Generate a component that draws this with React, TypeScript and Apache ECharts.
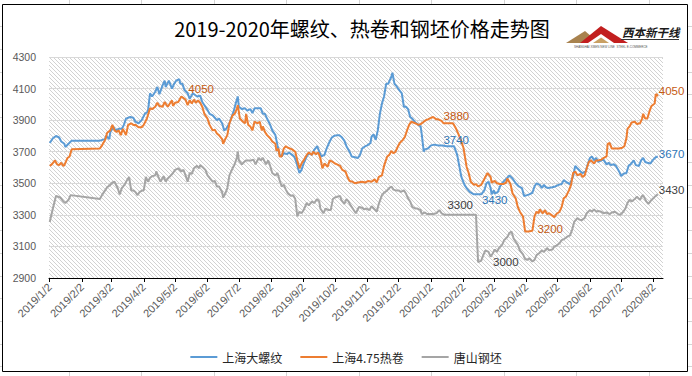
import React, { useEffect, useRef } from 'react';
import * as echarts from 'echarts';

// Points: [days since 2019-01-02, price (元/吨)]
const rebarPoints: [number, number][] = [
  [0,3755],[3,3785],[6,3800],[9,3790],[11,3765],[14,3750],[15,3730],[18,3750],[21,3770],[48,3770],[53,3780],[54,3800],[57,3780],[58,3825],[61,3855],[63,3835],[66,3845],[69,3845],[71,3870],[73,3910],[77,3920],[80,3915],[82,3890],[85,3880],[88,3900],[91,3940],[94,3955],[96,4070],[98,4050],[101,4080],[103,4110],[105,4065],[108,4120],[110,4150],[111,4110],[114,4150],[117,4100],[119,4130],[121,4150],[124,4160],[125,4130],[127,4130],[129,4090],[132,4070],[134,4035],[137,4070],[141,4050],[144,4055],[146,4015],[149,3985],[151,3965],[153,3940],[156,3930],[158,3915],[160,3900],[162,3910],[165,3880],[167,3835],[169,3845],[172,3880],[174,3920],[176,3955],[178,4005],[180,4050],[181,3985],[184,3970],[187,3975],[189,3960],[192,3970],[194,3945],[196,3975],[200,3975],[202,3975],[204,3940],[206,3940],[208,3910],[211,3870],[213,3835],[216,3805],[218,3740],[220,3680],[222,3670],[224,3690],[227,3685],[229,3695],[232,3680],[234,3670],[236,3635],[239,3565],[241,3585],[243,3625],[246,3670],[248,3690],[251,3680],[253,3710],[256,3735],[258,3700],[260,3670],[263,3680],[265,3720],[268,3765],[270,3790],[272,3800],[275,3805],[277,3805],[279,3795],[282,3770],[284,3735],[287,3700],[289,3670],[292,3665],[295,3660],[297,3680],[299,3720],[302,3735],[304,3740],[307,3755],[308,3795],[310,3810],[312,3775],[314,3835],[316,3940],[318,4005],[320,4050],[322,4130],[324,4130],[325,4145],[327,4175],[328,4200],[330,4130],[332,4115],[334,4095],[337,4070],[339,3985],[341,3985],[343,3970],[345,3920],[347,3910],[350,3885],[352,3875],[355,3860],[356,3815],[358,3700],[359,3715],[362,3720],[365,3740],[368,3745],[372,3740],[376,3740],[380,3735],[385,3735],[387,3735],[390,3680],[392,3610],[394,3540],[397,3490],[399,3470],[402,3445],[406,3430],[409,3430],[413,3430],[416,3455],[418,3500],[420,3510],[422,3470],[423,3430],[425,3455],[426,3435],[429,3445],[431,3480],[433,3500],[435,3515],[438,3535],[440,3550],[443,3530],[446,3500],[449,3480],[452,3470],[454,3420],[457,3425],[459,3430],[462,3440],[464,3480],[466,3500],[469,3490],[471,3470],[473,3490],[475,3475],[477,3470],[481,3475],[484,3480],[487,3490],[490,3495],[492,3520],[495,3505],[498,3495],[501,3545],[503,3610],[505,3595],[508,3575],[510,3565],[513,3575],[515,3620],[517,3660],[519,3670],[521,3645],[523,3660],[525,3635],[528,3645],[530,3650],[533,3620],[535,3630],[537,3615],[540,3620],[542,3610],[545,3575],[547,3545],[549,3560],[552,3565],[554,3610],[556,3620],[559,3645],[561,3615],[564,3610],[566,3645],[568,3660],[570,3635],[572,3630],[575,3625],[577,3645],[580,3665],[582,3670]
];
const coilPoints: [number, number][] = [
  [0,3610],[2,3620],[5,3645],[7,3620],[9,3615],[11,3630],[13,3610],[14,3615],[17,3660],[19,3670],[21,3715],[48,3720],[50,3740],[53,3775],[55,3820],[58,3835],[60,3870],[62,3835],[64,3825],[66,3835],[68,3805],[70,3845],[73,3805],[75,3870],[78,3880],[80,3870],[82,3870],[85,3855],[88,3855],[90,3870],[93,3910],[96,3975],[98,3970],[101,3985],[103,4010],[105,3990],[108,3985],[110,4015],[113,3985],[115,4005],[117,4025],[118,3990],[120,4010],[123,4015],[126,4050],[128,4040],[130,4030],[132,3995],[134,4025],[136,4005],[138,4030],[140,4010],[142,4025],[144,4010],[146,3985],[148,3940],[151,3910],[153,3870],[156,3835],[158,3840],[160,3815],[162,3805],[165,3780],[166,3750],[168,3780],[170,3805],[172,3880],[175,3930],[177,3940],[179,3970],[180,3995],[182,3910],[185,3890],[187,3880],[188,3940],[190,3870],[192,3860],[194,3835],[196,3890],[199,3880],[201,3890],[203,3835],[204,3860],[206,3825],[208,3805],[211,3785],[213,3765],[216,3750],[217,3705],[219,3720],[220,3670],[222,3670],[224,3720],[226,3735],[228,3725],[232,3715],[235,3700],[237,3645],[239,3595],[241,3625],[243,3645],[246,3680],[248,3695],[251,3680],[252,3700],[255,3685],[257,3695],[259,3660],[261,3595],[263,3625],[266,3605],[268,3645],[271,3635],[273,3625],[275,3620],[278,3610],[280,3585],[283,3575],[285,3540],[287,3515],[290,3510],[292,3500],[295,3505],[299,3510],[302,3505],[305,3515],[308,3510],[311,3525],[313,3505],[315,3540],[318,3550],[320,3610],[323,3670],[325,3680],[327,3705],[329,3690],[331,3700],[333,3730],[335,3755],[338,3775],[340,3795],[342,3835],[344,3870],[346,3890],[348,3885],[350,3880],[353,3870],[355,3875],[358,3890],[360,3900],[362,3905],[365,3915],[367,3920],[370,3905],[372,3905],[375,3895],[377,3880],[380,3880],[383,3880],[386,3880],[389,3845],[391,3815],[394,3765],[396,3725],[398,3645],[399,3605],[401,3565],[403,3510],[406,3490],[408,3495],[410,3480],[413,3490],[415,3515],[417,3540],[419,3565],[422,3540],[423,3505],[426,3515],[428,3500],[431,3495],[434,3495],[437,3505],[438,3530],[441,3495],[443,3435],[446,3405],[448,3350],[450,3320],[453,3290],[454,3245],[455,3195],[458,3195],[462,3200],[464,3290],[466,3320],[468,3310],[469,3335],[472,3310],[474,3330],[476,3305],[478,3310],[481,3295],[483,3285],[485,3305],[488,3320],[490,3350],[492,3405],[494,3415],[497,3455],[499,3490],[501,3565],[503,3575],[505,3550],[508,3560],[510,3540],[512,3550],[514,3595],[516,3635],[518,3645],[521,3625],[523,3645],[525,3645],[528,3650],[530,3660],[533,3670],[534,3750],[536,3755],[538,3720],[541,3720],[545,3720],[548,3725],[550,3735],[552,3785],[553,3845],[555,3860],[557,3885],[560,3890],[562,3875],[565,3880],[567,3910],[568,3940],[570,3910],[572,3910],[574,3955],[576,3990],[579,4005],[580,4060],[581,4065],[582,4050]
];
const billetPoints: [number, number][] = [
  [0,3255],[3,3340],[6,3420],[10,3410],[13,3385],[15,3375],[18,3395],[20,3425],[48,3400],[50,3425],[53,3455],[55,3475],[58,3490],[60,3505],[62,3510],[65,3470],[67,3430],[69,3470],[72,3495],[74,3520],[76,3540],[78,3455],[80,3455],[82,3445],[84,3425],[86,3445],[89,3455],[90,3455],[92,3540],[94,3510],[96,3535],[98,3545],[101,3550],[102,3575],[104,3540],[106,3510],[109,3545],[111,3510],[113,3530],[116,3550],[118,3565],[120,3585],[123,3595],[126,3575],[128,3585],[130,3550],[132,3510],[134,3565],[136,3560],[138,3595],[141,3610],[143,3595],[144,3615],[146,3605],[149,3585],[151,3550],[153,3535],[156,3510],[158,3515],[160,3480],[162,3480],[165,3445],[166,3410],[168,3435],[170,3470],[172,3550],[175,3595],[177,3620],[179,3660],[180,3700],[181,3645],[184,3620],[186,3635],[188,3645],[191,3645],[193,3645],[195,3650],[197,3620],[200,3660],[202,3645],[204,3660],[207,3620],[209,3645],[211,3610],[213,3565],[216,3550],[218,3565],[220,3520],[222,3480],[224,3490],[226,3460],[228,3435],[231,3420],[233,3425],[235,3400],[237,3290],[239,3320],[241,3310],[243,3330],[246,3375],[248,3360],[251,3385],[253,3375],[256,3400],[258,3385],[259,3340],[262,3310],[264,3340],[267,3330],[269,3330],[271,3400],[273,3410],[275,3415],[278,3420],[279,3395],[282,3370],[284,3400],[286,3385],[288,3360],[290,3340],[293,3310],[296,3350],[299,3345],[301,3335],[303,3340],[306,3330],[308,3355],[311,3335],[313,3320],[315,3370],[318,3425],[320,3440],[323,3455],[325,3470],[327,3480],[329,3460],[331,3455],[334,3455],[336,3445],[339,3455],[341,3435],[343,3405],[345,3385],[347,3350],[350,3340],[352,3340],[355,3330],[356,3305],[359,3315],[361,3305],[364,3305],[367,3305],[370,3310],[373,3330],[375,3310],[378,3300],[383,3300],[388,3300],[394,3300],[401,3300],[408,3300],[410,3000],[413,3010],[415,3045],[417,3075],[420,3065],[422,3035],[424,3055],[426,3080],[428,3065],[430,3090],[433,3110],[435,3140],[438,3160],[440,3185],[442,3195],[444,3150],[446,3130],[448,3110],[450,3075],[453,3050],[455,3020],[457,3015],[459,3025],[462,3005],[464,3015],[466,3045],[469,3060],[471,3075],[473,3065],[476,3090],[478,3075],[481,3080],[483,3100],[485,3105],[488,3120],[490,3140],[492,3145],[495,3160],[498,3170],[500,3205],[502,3255],[505,3280],[507,3270],[509,3265],[512,3280],[514,3310],[517,3330],[519,3320],[521,3335],[523,3320],[525,3325],[528,3320],[530,3310],[533,3315],[536,3305],[538,3315],[541,3320],[544,3305],[546,3300],[549,3320],[551,3340],[553,3375],[555,3395],[557,3385],[560,3400],[562,3415],[565,3395],[567,3420],[568,3425],[571,3385],[573,3370],[576,3395],[577,3400],[580,3420],[582,3430]
];

const seriesNames = ['上海大螺纹', '上海4.75热卷', '唐山钢坯'];
const seriesColors = ['#5B9BD5', '#ED7D31', '#A5A5A5'];
const monthTickLabels = ['2019/1/2','2019/2/2','2019/3/2','2019/4/2','2019/5/2','2019/6/2','2019/7/2','2019/8/2','2019/9/2','2019/10/2','2019/11/2','2019/12/2','2020/1/2','2020/2/2','2020/3/2','2020/4/2','2020/5/2','2020/6/2','2020/7/2','2020/8/2'];
const yTicks = { min: 2900, max: 4300, step: 200 };
const titleText = '2019-2020年螺纹、热卷和钢坯价格走势图';

// labelled points (day offsets)
const rebarLabelDays = [372, 406, 582];
const coilLabelDays = [126, 377, 462, 582];
const billetLabelDays = [408, 410, 582];

const DAY = 86400000;
const baseDate = new Date(2019, 0, 2);
const parseYMD = (s: string) => { const [y, m, d] = s.split('/').map(Number); return new Date(y, m - 1, d); };
const dateToDay = (dt: Date) => Math.round((dt.getTime() - baseDate.getTime()) / DAY);
const dayToLabel = (d: number) => { const dt = new Date(2019, 0, 2 + Math.round(d)); return `${dt.getFullYear()}/${dt.getMonth() + 1}/${dt.getDate()}`; };

type Place = { position: string; distance: number; offset: [number, number] };
const placements: Record<string, Record<number, Place>> = {
  rebar: {
    372: { position: 'right', distance: 5, offset: [0, -5] },
    406: { position: 'right', distance: 5, offset: [3, 6] },
    582: { position: 'right', distance: 1, offset: [0, -2] },
  },
  coil: {
    126: { position: 'right', distance: 5, offset: [2, -7] },
    377: { position: 'right', distance: 0, offset: [0, -7] },
    462: { position: 'right', distance: 5, offset: [0, -2] },
    582: { position: 'right', distance: 1, offset: [0, -5] },
  },
  billet: {
    408: { position: 'left', distance: 3, offset: [0, -10] },
    410: { position: 'right', distance: 5, offset: [10, 0] },
    582: { position: 'right', distance: 1, offset: [0, -4] },
  },
};

function buildData(points: [number, number][], labelDays: number[], key: string, color: string) {
  return points.map(([d, v]) => {
    const item: any = { value: [d, v] };
    if (labelDays.includes(d)) {
      const p = placements[key][d];
      item.symbol = 'circle';
      item.symbolSize = 0;
      item.label = {
        show: true, position: p.position, distance: p.distance, offset: p.offset,
        color, fontSize: 11.5, fontFamily: 'Liberation Sans', formatter: String(v),
      };
    }
    return item;
  });
}

function makeHatch(): string {
  const c = document.createElement('canvas');
  c.width = 4; c.height = 4;
  const ctx = c.getContext('2d')!;
  ctx.fillStyle = '#ffffff';
  ctx.fillRect(0, 0, 4, 4);
  ctx.fillStyle = '#d2d2d2';
  for (let i = 0; i < 4; i++) ctx.fillRect(i, i, 1, 1);
  return c.toDataURL();
}

export default function App() {
  const ref = useRef<HTMLDivElement>(null);
  useEffect(() => {
    if (!ref.current) return;
    const chart = echarts.init(ref.current, null, { renderer: 'svg' });
    const tickDays = monthTickLabels.map((s) => dateToDay(parseYMD(s)));

    const sheetLines: any[] = [];
    [69, 141, 214, 286, 359, 431, 504, 576, 649].forEach((x) => {
      sheetLines.push({ type: 'line', shape: { x1: x + 0.5, y1: 0, x2: x + 0.5, y2: 4 }, style: { stroke: '#d4d4d4', lineWidth: 1 } });
      sheetLines.push({ type: 'line', shape: { x1: x + 0.5, y1: 372, x2: x + 0.5, y2: 376 }, style: { stroke: '#d4d4d4', lineWidth: 1 } });
    });
    [26, 49, 72, 94, 117, 139, 162, 185, 207, 230, 253, 276, 298, 321, 344, 366].forEach((y) => {
      sheetLines.push({ type: 'line', shape: { x1: 0, y1: y + 0.5, x2: 2, y2: y + 0.5 }, style: { stroke: '#d4d4d4', lineWidth: 1 } });
      sheetLines.push({ type: 'line', shape: { x1: 688, y1: y + 0.5, x2: 692, y2: y + 0.5 }, style: { stroke: '#d4d4d4', lineWidth: 1 } });
    });

    const option: any = {
      animation: false,
      backgroundColor: '#ffffff',
      grid: {
        left: 49, right: 29, top: 57, bottom: 98, show: true, borderWidth: 0,
        backgroundColor: { image: makeHatch(), repeat: 'repeat', imageWidth: 4, imageHeight: 4 },
      },
      legend: {
        data: seriesNames.map((n) => ({ name: n, icon: 'rect' })),
        top: 346, left: 'center', itemWidth: 27, itemHeight: 2, itemGap: 18,
        textStyle: { fontFamily: 'Noto Sans CJK SC', fontSize: 12, color: '#262626' },
      },
      xAxis: {
        type: 'value',
        min: -0.7,
        max: 587,
        axisLine: { onZero: false, lineStyle: { color: '#000000', width: 1 } },
        axisTick: { show: true, length: 4, customValues: tickDays, lineStyle: { color: '#000000' } },
        axisLabel: { customValues: tickDays, formatter: (v: number) => dayToLabel(v), rotate: 45, margin: 7, fontSize: 11, color: '#595959', fontFamily: 'Liberation Sans' },
        splitLine: { show: false },
      },
      yAxis: {
        type: 'value', min: yTicks.min, max: yTicks.max, interval: yTicks.step,
        axisLine: { show: false }, axisTick: { show: false },
        axisLabel: { margin: 13, fontSize: 10.5, color: '#595959', fontFamily: 'Liberation Sans', formatter: (v: number) => String(v) },
        splitLine: { lineStyle: { color: '#d9d9d9', width: 1 } },
      },
      series: [
        { name: seriesNames[0], type: 'line', symbol: 'none', showSymbol: true, color: seriesColors[0], lineStyle: { color: seriesColors[0], width: 2 }, itemStyle: { color: seriesColors[0] }, data: buildData(rebarPoints, rebarLabelDays, 'rebar', '#2E75B6') },
        { name: seriesNames[1], type: 'line', symbol: 'none', showSymbol: true, color: seriesColors[1], lineStyle: { color: seriesColors[1], width: 2 }, itemStyle: { color: seriesColors[1] }, data: buildData(coilPoints, coilLabelDays, 'coil', '#C55A11') },
        { name: seriesNames[2], type: 'line', symbol: 'none', showSymbol: true, color: seriesColors[2], lineStyle: { color: seriesColors[2], width: 2 }, itemStyle: { color: seriesColors[2] }, data: buildData(billetPoints, billetLabelDays, 'billet', '#404040') },
      ],
      graphic: [
        ...sheetLines,
        { type: 'rect', shape: { x: 2.5, y: 4.5, width: 685, height: 367 }, style: { fill: 'none', stroke: '#000000', lineWidth: 1 }, z: 100 },
        { type: 'text', x: 362, y: 28, style: { text: titleText, fontFamily: 'Noto Sans CJK SC', fontSize: 20, fill: '#000000', textAlign: 'center', textVerticalAlign: 'middle' } },
        { type: 'polygon', shape: { points: [[566, 43], [585, 31], [599, 43]] }, style: { fill: '#A8824E' } },
        { type: 'polygon', shape: { points: [[580, 43], [601, 26], [628, 43]] }, style: { fill: '#C21F1F' } },
        { type: 'polygon', shape: { points: [[588, 43], [601, 34], [614, 43]] }, style: { fill: '#ffffff' } },
        { type: 'polygon', shape: { points: [[593, 43], [601, 37.5], [609, 43]] }, style: { fill: '#C9A063' } },
        { type: 'text', x: 622, y: 32, style: { text: '西本新干线', fontFamily: 'Noto Sans CJK SC', fontSize: 11.5, fontWeight: 'bold', fontStyle: 'italic', fill: '#1a1a1a', textVerticalAlign: 'middle' } },
        { type: 'line', shape: { x1: 621, y1: 39.5, x2: 679, y2: 39.5 }, style: { stroke: '#333333', lineWidth: 1 } },
        { type: 'text', x: 574, y: 45, style: { text: 'SHANGHAI XIBEN NEW LINE  STEEL E-COMMERCE', fontFamily: 'Liberation Sans', fontSize: 3, fill: '#555555' } },
      ],
    };
    chart.setOption(option);
    return () => chart.dispose();
  }, []);
  return <div ref={ref} style={{ position: 'absolute', left: 0, top: 0, width: 692, height: 376, background: '#fff' }} />;
}
